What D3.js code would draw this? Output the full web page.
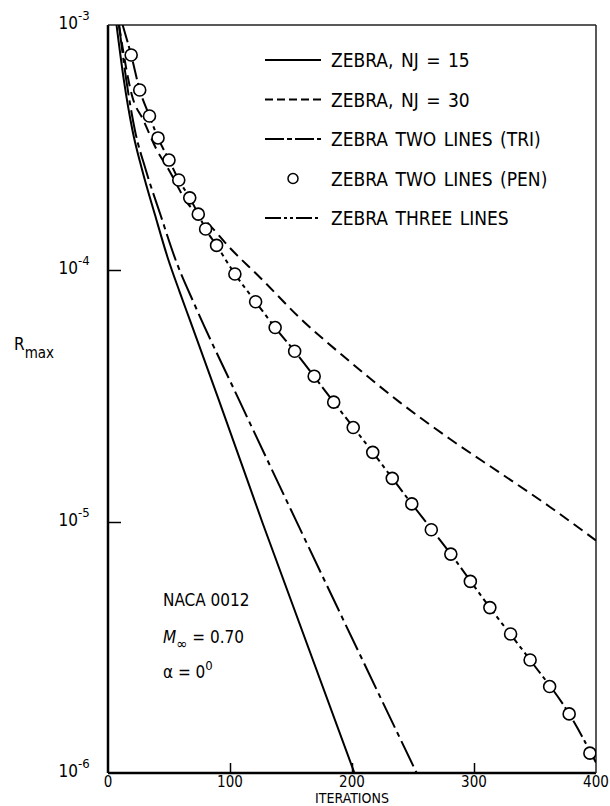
<!DOCTYPE html>
<html>
<head>
<meta charset="utf-8">
<script src="https://cdn.jsdelivr.net/npm/d3@7/dist/d3.min.js"></script>
<style>
  body { margin: 0; background: #fff; }
  svg text { font-family: 'Liberation Sans Narrow', 'DejaVu Sans Condensed', 'Arial Narrow', sans-serif; fill: #000; }
</style>
</head>
<body>
<div id="chart"></div>
<script>
// values (iterations vs R_max)
const nj15Iter = [7, 13, 20, 28, 38.5, 49, 59, 67, 90.5, 127, 202];
const nj15Val = [1e-3, 5.96e-4, 3.73e-4, 2.56e-4, 1.68e-4, 1.12e-4, 8.12e-5, 6.35e-5, 3.08e-5, 9.82e-6, 1e-6];

const nj30Iter = [9, 20, 29, 40, 49, 65, 81, 100, 125, 157, 198, 239, 280, 321, 362, 400];
const nj30Val = [1e-3, 5.08e-4, 4.09e-4, 3.09e-4, 2.61e-4, 1.88e-4, 1.57e-4, 1.23e-4, 9.3e-5, 6.47e-5, 4.34e-5, 2.99e-5, 2.14e-5, 1.57e-5, 1.15e-5, 8.44e-6];

const triIter = [9, 15, 22, 31, 43, 56, 71, 107, 157, 253];
const triVal = [1e-3, 5.96e-4, 3.73e-4, 2.56e-4, 1.68e-4, 1.08e-4, 7.28e-5, 3.08e-5, 9.47e-6, 1e-6];

const penIter = [19, 26, 34, 41, 50, 58, 67, 74, 80, 89, 104, 121, 137, 153, 169, 185, 201, 217, 233, 249,
  265, 281, 297, 313, 330, 346, 362, 378, 395];
const penVal = [7.54e-4, 5.43e-4, 4.25e-4, 3.46e-4, 2.81e-4, 2.33e-4, 1.97e-4, 1.69e-4, 1.47e-4, 1.26e-4,
  9.64e-5, 7.48e-5, 5.91e-5, 4.76e-5, 3.79e-5, 2.99e-5, 2.37e-5, 1.89e-5, 1.49e-5, 1.18e-5,
  9.31e-6, 7.45e-6, 5.8e-6, 4.56e-6, 3.58e-6, 2.82e-6, 2.21e-6, 1.72e-6, 1.2e-6];

const threeIter = [12, 19, 26, 34, 41, 50, 58, 67, 74, 80, 89, 104, 121, 137, 153, 185, 217, 249, 281, 313, 346, 378, 400];
const threeVal = [1e-3, 7.54e-4, 5.43e-4, 4.25e-4, 3.46e-4, 2.81e-4, 2.33e-4, 1.97e-4, 1.69e-4, 1.47e-4, 1.26e-4,
  9.64e-5, 7.48e-5, 5.91e-5, 4.76e-5, 2.99e-5, 1.89e-5, 1.18e-5, 7.45e-6, 4.56e-6, 2.82e-6, 1.72e-6, 1.1e-6];

const xTicks = [0, 100, 200, 300, 400];
const yTicks = [1e-3, 1e-4, 1e-5, 1e-6];
const yTickExp = ['-3', '-4', '-5', '-6'];

const legendLabels = ['ZEBRA, NJ = 15', 'ZEBRA, NJ = 30', 'ZEBRA TWO LINES (TRI)', 'ZEBRA TWO LINES (PEN)', 'ZEBRA THREE LINES'];

const width = 610;
const height = 806;
const margins = {top: 25, right: 14, bottom: 33, left: 108};
const chartWidth = width - margins.left - margins.right;
const chartHeight = height - margins.top - margins.bottom;

const svg = d3.select('#chart').append('svg')
  .attr('width', width)
  .attr('height', height);

svg.append('defs').append('clipPath').attr('id', 'clip')
  .append('rect').attr('width', chartWidth).attr('height', chartHeight);

const chart = svg.append('g')
  .attr('transform', `translate(${margins.left}, ${margins.top})`);

const xScale = d3.scaleLinear().domain([0, 400]).range([0, chartWidth]);
// the printed decades are not quite equal, so map each one separately
const yScale = d3.scaleLog()
  .domain([1e-6, 1e-5, 1e-4, 1e-3])
  .range([chartHeight, 497, 245, 0]);

// axes: inward ticks, labels drawn separately
chart.append('g')
  .attr('class', 'x-axis')
  .attr('transform', `translate(0, ${chartHeight})`)
  .call(d3.axisBottom(xScale).tickValues(xTicks.slice(1, -1)).tickSize(-10).tickFormat(''))
  .call(g => g.select('.domain').remove())
  .call(g => g.selectAll('line').attr('stroke', '#000').attr('stroke-width', 1.5));

chart.append('g')
  .attr('class', 'y-axis')
  .call(d3.axisLeft(yScale).tickValues(yTicks.slice(1, -1)).tickSize(-13).tickFormat(''))
  .call(g => g.select('.domain').remove())
  .call(g => g.selectAll('line').attr('stroke', '#000').attr('stroke-width', 1.5));

// frame
chart.append('line').attr('x1', 0).attr('x2', 0).attr('y1', 0).attr('y2', chartHeight)
  .attr('stroke', '#000').attr('stroke-width', 2.5);
chart.append('line').attr('x1', 0).attr('x2', chartWidth).attr('y1', chartHeight).attr('y2', chartHeight)
  .attr('stroke', '#000').attr('stroke-width', 2.5);
chart.append('line').attr('x1', 0).attr('x2', chartWidth).attr('y1', 0).attr('y2', 0)
  .attr('stroke', '#222').attr('stroke-width', 1.5);
chart.append('line').attr('x1', chartWidth).attr('x2', chartWidth).attr('y1', 0).attr('y2', chartHeight)
  .attr('stroke', '#222').attr('stroke-width', 1.5);

// tick labels
chart.selectAll('.x-label')
  .data(xTicks)
  .enter()
  .append('text')
  .attr('class', 'x-label')
  .attr('x', d => xScale(d))
  .attr('y', chartHeight + 14)
  .attr('text-anchor', 'middle')
  .attr('font-size', 15)
  .text(d => d);

const yLabels = chart.selectAll('.y-label')
  .data(yTicks)
  .enter()
  .append('text')
  .attr('class', 'y-label')
  .attr('x', -34)
  .attr('y', d => yScale(d) + 4)
  .attr('text-anchor', 'middle')
  .attr('font-size', 17);
yLabels.append('tspan').text('10');
yLabels.append('tspan').attr('dy', -9).attr('font-size', 13).text((d, i) => yTickExp[i]);

// axis titles
svg.append('text')
  .attr('x', margins.left + chartWidth / 2)
  .attr('y', height - 3)
  .attr('text-anchor', 'middle')
  .attr('font-size', 14)
  .text('ITERATIONS');

const rLabel = svg.append('text')
  .attr('x', 14)
  .attr('y', 350)
  .attr('font-size', 17);
rLabel.append('tspan').text('R');
rLabel.append('tspan').attr('dy', 8).attr('font-size', 15).text('max');

// curves
const line = d3.line()
  .x(d => xScale(d[0]))
  .y(d => yScale(d[1]))
  .curve(d3.curveMonotoneX);

const series = [
  {iter: nj15Iter, val: nj15Val, dash: null, legendDash: null},
  {iter: nj30Iter, val: nj30Val, dash: '11,6', legendDash: '8,4'},
  {iter: triIter, val: triVal, dash: '28,5,5,5', legendDash: '19,3,5,3'},
  {iter: threeIter, val: threeVal, dash: '18,4,4,4,4,4', legendDash: '16,3,3,3,3,3'}
];

const plot = chart.append('g').attr('clip-path', 'url(#clip)');

plot.selectAll('.curve')
  .data(series)
  .enter()
  .append('path')
  .attr('class', 'curve')
  .attr('d', s => line(s.iter.map((v, i) => [v, s.val[i]])))
  .attr('fill', 'none')
  .attr('stroke', '#000')
  .attr('stroke-width', 2)
  .attr('stroke-dasharray', s => s.dash);

plot.selectAll('.pen')
  .data(penIter.map((v, i) => [v, penVal[i]]))
  .enter()
  .append('circle')
  .attr('class', 'pen')
  .attr('cx', d => xScale(d[0]))
  .attr('cy', d => yScale(d[1]))
  .attr('r', 6)
  .attr('fill', '#fff')
  .attr('stroke', '#000')
  .attr('stroke-width', 1.6);

// legend
const legend = svg.append('g').attr('transform', 'translate(265, 60)');
const rowGap = 39.5;
const legendRows = [series[0], series[1], series[2], null, series[3]];

legend.selectAll('.legend-line')
  .data(legendRows.filter(d => d !== null))
  .enter()
  .append('line')
  .attr('x1', 0)
  .attr('x2', 56)
  .attr('y1', d => legendRows.indexOf(d) * rowGap)
  .attr('y2', d => legendRows.indexOf(d) * rowGap)
  .attr('stroke', '#000')
  .attr('stroke-width', 2)
  .attr('stroke-dasharray', d => d.legendDash);

legend.append('circle')
  .attr('cx', 28)
  .attr('cy', 3 * rowGap)
  .attr('r', 5)
  .attr('fill', '#fff')
  .attr('stroke', '#000')
  .attr('stroke-width', 1.5);

legend.selectAll('.legend-text')
  .data(legendLabels)
  .enter()
  .append('text')
  .attr('x', 66)
  .attr('y', (d, i) => i * rowGap + 7)
  .attr('font-size', 19)
  .attr('word-spacing', 2)
  .text(d => d);

// annotation
const note = svg.append('g').attr('transform', 'translate(163, 606)');
note.append('text').attr('font-size', 17).text('NACA 0012');
const mach = note.append('text').attr('y', 37).attr('font-size', 17);
mach.append('tspan').attr('font-style', 'italic').text('M');
mach.append('tspan').attr('dy', 6).attr('font-size', 15).text('∞');
mach.append('tspan').attr('dy', -6).text(' = 0.70');
const alpha = note.append('text').attr('y', 72).attr('font-size', 17);
alpha.append('tspan').text('α = 0');
alpha.append('tspan').attr('dy', -8).attr('font-size', 13).text('0');
</script>
</body>
</html>
